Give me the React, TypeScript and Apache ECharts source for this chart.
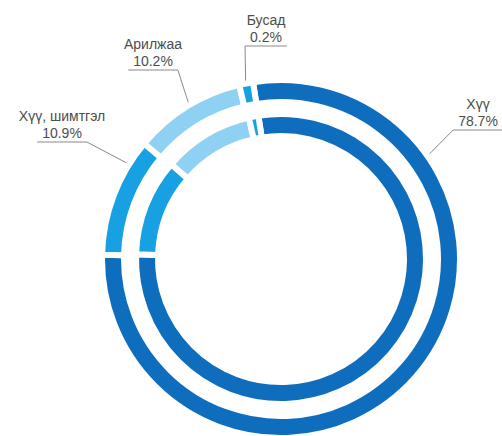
import React, { useEffect, useRef } from 'react';
import * as echarts from 'echarts';

// ---- data ----
const categories = ['Хүү', 'Хүү, шимтгэл', 'Арилжаа', 'Бусад'];
const shares = [78.7, 10.9, 10.2, 0.2];
const sliceColors = ['#0f6dbd', '#17a1e3', '#8fd1f2', '#17a1e3'];

// ---- layout (kept apart from the data) ----
const CX = 281;
const CY = 259;
const OUTER_RADIUS = [157, 179];
const INNER_RADIUS = [123, 145];
const GAP = 6;
const LEADER_R = 177;
const FONT = 'Arial, "Liberation Sans", sans-serif';
const FONT_SIZE = 14;

// label spots: centre x of text/underline, underline y, leader angle, which end of underline the leader meets
const labelSpots = [
  { x: 478, y: 130, angle: 35, attach: 'left' },
  { x: 62, y: 142, angle: 148, attach: 'right' },
  { x: 153, y: 70, angle: 121, attach: 'right' },
  { x: 266, y: 46, angle: 101.5, attach: 'left' },
];

function measure(text: string): number {
  const c = document.createElement('canvas');
  const ctx = c.getContext('2d');
  if (!ctx) return text.length * 8;
  ctx.font = `${FONT_SIZE}px ${FONT}`;
  return ctx.measureText(text).width;
}

const valueText = (v: number) => `${v.toFixed(1)}%`;

export default function App() {
  const ref = useRef<HTMLDivElement>(null);

  useEffect(() => {
    if (!ref.current) return;
    const chart = echarts.init(ref.current, undefined, { renderer: 'svg' });
    const data = categories.map((name, i) => ({
      name,
      value: shares[i],
      itemStyle: { color: sliceColors[i] },
    }));

    chart.setOption({
      animation: false,
      backgroundColor: '#ffffff',
      series: [
        {
          type: 'pie',
          center: [CX, CY],
          radius: OUTER_RADIUS,
          startAngle: 99,
          clockwise: true,
          minAngle: 4.5,
          avoidLabelOverlap: false,
          silent: true,
          emphasis: { disabled: true },
          itemStyle: { borderColor: '#ffffff', borderWidth: GAP },
          label: {
            show: true,
            position: 'outside',
            overflow: 'none',
            formatter: (p: any) => `${p.name}\n${valueText(p.value)}`,
            fontFamily: FONT,
            fontSize: FONT_SIZE,
            lineHeight: 17,
            color: '#4d4d4d',
          },
          labelLine: {
            show: true,
            lineStyle: { color: '#8a8a8a', width: 1 },
          },
          labelLayout: (p: any) => {
            const spot = labelSpots[p.dataIndex];
            const hw = measure(valueText(shares[p.dataIndex])) / 2 + 5;
            const a = (spot.angle * Math.PI) / 180;
            const p0 = [CX + LEADER_R * Math.cos(a), CY - LEADER_R * Math.sin(a)];
            const bendX = spot.attach === 'left' ? spot.x - hw : spot.x + hw;
            const endX = spot.attach === 'left' ? spot.x + hw : spot.x - hw;
            return {
              x: spot.x,
              y: spot.y - 1,
              align: 'center',
              verticalAlign: 'bottom',
              labelLinePoints: [p0, [bendX, spot.y], [endX, spot.y]],
            };
          },
          data,
        },
        {
          type: 'pie',
          center: [CX, CY],
          radius: INNER_RADIUS,
          startAngle: 99,
          clockwise: true,
          minAngle: 3.8,
          silent: true,
          emphasis: { disabled: true },
          itemStyle: { borderColor: '#ffffff', borderWidth: GAP },
          label: { show: false },
          labelLine: { show: false },
          data,
        },
      ],
    });

    return () => chart.dispose();
  }, []);

  return (
    <div
      ref={ref}
      style={{ position: 'absolute', left: 0, top: 0, width: 502, height: 436 }}
    />
  );
}
